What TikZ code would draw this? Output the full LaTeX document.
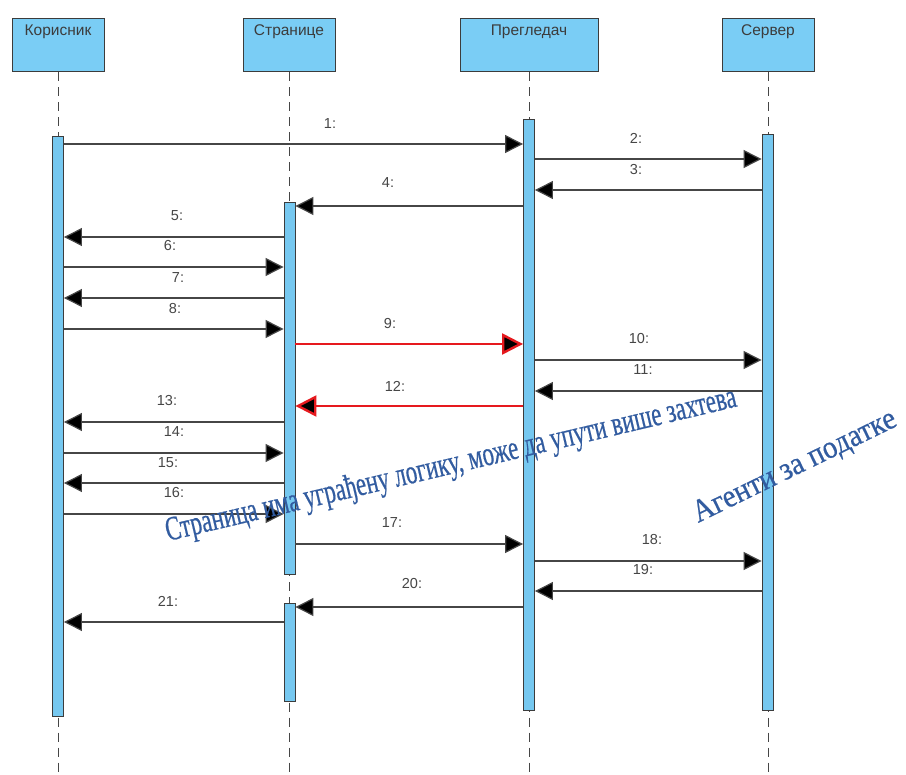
\documentclass[tikz,border=0pt]{standalone}
\usepackage{fontspec}
\setmainfont{Liberation Sans}
\newfontfamily\wafont[FakeBold=0.6]{Liberation Serif}
\usetikzlibrary{arrows.meta}
\definecolor{boxblue}{RGB}{122,205,245}
\definecolor{barblue}{RGB}{118,200,240}
\definecolor{edgegray}{RGB}{60,60,60}
\definecolor{msggray}{RGB}{70,70,70}
\definecolor{lblgray}{RGB}{70,70,70}
\definecolor{wablue}{RGB}{50,92,160}
\definecolor{msgred}{RGB}{230,25,30}
\begin{document}
\begin{tikzpicture}[x=1pt,y=-1pt,
  headbox/.style={draw=edgegray, line width=1pt, fill=boxblue, minimum width=92pt, minimum height=53pt, inner sep=0pt},
  headtext/.style={anchor=center, font=\fontsize{15.5}{18}\selectfont, text=edgegray, inner sep=0pt},
  lifeline/.style={draw=msggray, line width=1pt, dash pattern=on 9pt off 6pt},
  actbar/.style={draw=edgegray, line width=0.9pt, fill=barblue, minimum width=11pt, inner sep=0pt},
  msg/.style={draw=msggray, line width=1.2pt, -{Triangle[length=18pt,width=18pt,fill=black]}},
  redmsg/.style={draw=msgred, line width=2.4pt, -{Triangle[length=21pt,width=21pt,fill=black]}},
  lbl/.style={font=\fontsize{14.5}{17}\selectfont, text=lblgray, inner sep=0pt},
  wordart/.style={font=\wafont\fontsize{34}{38}\selectfont, text=wablue, inner sep=0pt}
]
\useasboundingbox (0,0) rectangle (906,775);
\fill[white] (0,0) rectangle (906,775);

% header boxes
\node[headbox] (hK) at (58,45.5) {};
\node[headbox] (hS) at (289,45.5) {};
\node[headbox, minimum width=138pt] (hP) at (529,45.5) {};
\node[headbox] (hV) at (768,45.5) {};
\node[headtext] (tK) at (58,32) {Корисник};
\node[headtext] (tS) at (289,32) {Странице};
\node[headtext] (tP) at (529,32) {Прегледач};
\node[headtext] (tV) at (768,32) {Сервер};

% lifelines
\coordinate (eK) at (58,775);
\coordinate (eS) at (289,775);
\coordinate (eP) at (529,775);
\coordinate (eV) at (768,775);
\draw[lifeline] (hK.south) -- (eK);
\draw[lifeline] (hS.south) -- (eS);
\draw[lifeline] (hP.south) -- (eP);
\draw[lifeline] (hV.south) -- (eV);

% activation bars
\node[actbar, minimum height=580pt] (bK) at (58,426) {};
\node[actbar, minimum height=372pt] (bS) at (289.5,388) {};
\node[actbar, minimum height=98pt] (bS2) at (289.5,652) {};
\node[actbar, minimum height=591pt] (bP) at (529,414.5) {};
\node[actbar, minimum height=576pt] (bV) at (767.5,422) {};

% messages
\draw[msg] (bK.east |- 0,144) -- (bP.west |- 0,144);
\draw[msg] (bP.east |- 0,159) -- (bV.west |- 0,159);
\draw[msg] (bV.west |- 0,190) -- (bP.east |- 0,190);
\draw[msg] (bP.west |- 0,206) -- (bS.east |- 0,206);
\draw[msg] (bS.west |- 0,237) -- (bK.east |- 0,237);
\draw[msg] (bK.east |- 0,267) -- (bS.west |- 0,267);
\draw[msg] (bS.west |- 0,298) -- (bK.east |- 0,298);
\draw[msg] (bK.east |- 0,329) -- (bS.west |- 0,329);
\draw[redmsg] (bS.east |- 0,344) -- (bP.west |- 0,344);
\draw[msg] (bP.east |- 0,360) -- (bV.west |- 0,360);
\draw[msg] (bV.west |- 0,391) -- (bP.east |- 0,391);
\draw[redmsg] (bP.west |- 0,406) -- (bS.east |- 0,406);
\draw[msg] (bS.west |- 0,422) -- (bK.east |- 0,422);
\draw[msg] (bK.east |- 0,453) -- (bS.west |- 0,453);
\draw[msg] (bS.west |- 0,483) -- (bK.east |- 0,483);
\draw[msg] (bK.east |- 0,514) -- (bS.west |- 0,514);
\draw[msg] (bS.east |- 0,544) -- (bP.west |- 0,544);
\draw[msg] (bP.east |- 0,561) -- (bV.west |- 0,561);
\draw[msg] (bV.west |- 0,591) -- (bP.east |- 0,591);
\draw[msg] (bP.west |- 0,607) -- (bS2.east |- 0,607);
\draw[msg] (bS2.west |- 0,622) -- (bK.east |- 0,622);

% labels
\node[lbl] (l1) at (330,124) {1:};
\node[lbl] (l2) at (636,138) {2:};
\node[lbl] (l3) at (636,170) {3:};
\node[lbl] (l4) at (388,183) {4:};
\node[lbl] (l5) at (177,216) {5:};
\node[lbl] (l6) at (170,246) {6:};
\node[lbl] (l7) at (178,278) {7:};
\node[lbl] (l8) at (175,309) {8:};
\node[lbl] (l9) at (390,324) {9:};
\node[lbl] (l10) at (639,339) {10:};
\node[lbl] (l11) at (643,370) {11:};
\node[lbl] (l12) at (395,386) {12:};
\node[lbl] (l13) at (167,401) {13:};
\node[lbl] (l14) at (174,432) {14:};
\node[lbl] (l15) at (168,463) {15:};
\node[lbl] (l16) at (174,493) {16:};
\node[lbl] (l17) at (392,523) {17:};
\node[lbl] (l18) at (652,540) {18:};
\node[lbl] (l19) at (643,570) {19:};
\node[lbl] (l20) at (412,584) {20:};
\node[lbl] (l21) at (168,601) {21:};

% word-art notes
\begin{scope}[shift={(168,541)}]
\node[wordart, rotate=13.3, xscale=0.673, anchor=base west] (n1) at (0,0) {Страница има уграђену логику, може да упути више захтева};
\end{scope}
\begin{scope}[shift={(698,523)}]
\node[wordart, font=\wafont\fontsize{32}{36}\selectfont, rotate=26, xscale=0.906, anchor=base west] (n2) at (0,0) {Агенти за податке};
\end{scope}
\end{tikzpicture}
\end{document}
